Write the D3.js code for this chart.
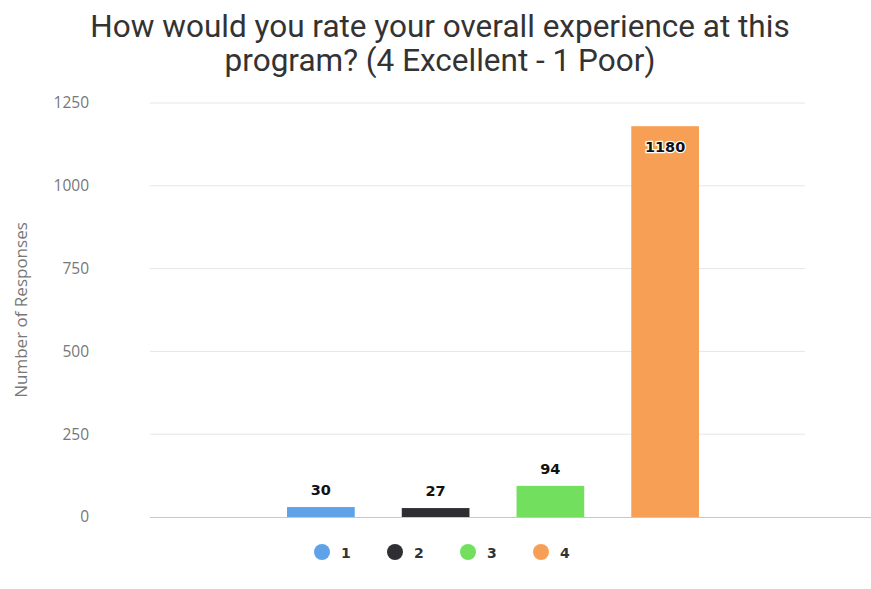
<!DOCTYPE html>
<html>
<head>
<meta charset="utf-8">
<script src="https://cdn.jsdelivr.net/npm/d3@7"></script>
<style>
  body { margin: 0; background: #fff; }
  svg { display: block; }
</style>
</head>
<body>
<svg id="chart" width="871" height="589"></svg>
<script>
// chart data
var categories = ["1", "2", "3", "4"];
var responses = [30, 27, 94, 1180];
var colors = ["#5fa2e8", "#2e2e33", "#72e05e", "#f7a055"];
var yTicks = [0, 250, 500, 750, 1000, 1250];
var titleLines = ["How would you rate your overall experience at this", "program? (4 Excellent - 1 Poor)"];

var svg = d3.select("#chart");

// scales
var y = d3.scaleLinear().domain([0, 1250]).range([517, 103]);
var x = d3.scaleBand()
  .domain(categories)
  .range([263.5, 722.5])
  .paddingInner(0.41)
  .paddingOuter(0.205);

// title
svg.append("text")
  .attr("x", 440)
  .attr("y", 37)
  .attr("text-anchor", "middle")
  .style("font-family", "Roboto, sans-serif")
  .style("font-size", "31.5px")
  .style("fill", "#333")
  .selectAll("tspan")
  .data(titleLines)
  .enter()
  .append("tspan")
    .attr("x", 440)
    .attr("dy", function(d, i){ return i == 0 ? 0 : 34 })
    .text(function(d){ return d });

// grid lines
svg.append("g")
  .selectAll("line")
  .data(yTicks.filter(function(d){ return d > 0 }))
  .enter()
  .append("line")
    .attr("x1", 150)
    .attr("x2", 805)
    .attr("y1", function(d){ return y(d) })
    .attr("y2", function(d){ return y(d) })
    .attr("stroke", "#e6e6e6")
    .attr("stroke-width", 1);

// y axis labels
var yAxis = d3.axisLeft(y).tickValues(yTicks).tickFormat(d3.format("d")).tickSize(0).tickPadding(0);
var gy = svg.append("g")
  .attr("transform", "translate(89,0)")
  .call(yAxis);
gy.select(".domain").remove();
gy.selectAll("text")
  .style("font-family", "'Open Sans', sans-serif")
  .style("font-size", "15.5px")
  .style("fill", "#777");

// y axis title
svg.append("text")
  .attr("transform", "translate(27,310) rotate(-90)")
  .attr("text-anchor", "middle")
  .style("font-family", "'Open Sans', sans-serif")
  .style("font-size", "17px")
  .style("fill", "#777")
  .text("Number of Responses");

// bars
svg.append("g")
  .selectAll("rect")
  .data(responses)
  .enter()
  .append("rect")
    .attr("x", function(d, i){ return x(categories[i]) })
    .attr("y", function(d){ return y(d) })
    .attr("width", x.bandwidth())
    .attr("height", function(d){ return y(0) - y(d) })
    .style("fill", function(d, i){ return colors[i] });

// baseline
svg.append("line")
  .attr("x1", 150)
  .attr("x2", 871)
  .attr("y1", y(0) + 0.5)
  .attr("y2", y(0) + 0.5)
  .attr("stroke", "#c8c8c8")
  .attr("stroke-width", 1);

// value labels: above small bars, inside the tall one
svg.append("g")
  .selectAll("text")
  .data(responses)
  .enter()
  .append("text")
    .attr("x", function(d, i){ return x(categories[i]) + x.bandwidth() / 2 })
    .attr("y", function(d){ return y(d) > 200 ? y(d) - 12 : y(d) + 26 })
    .attr("text-anchor", "middle")
    .style("font-family", "'DejaVu Sans', sans-serif")
    .style("font-size", "14.5px")
    .style("font-weight", "bold")
    .style("fill", "#111")
    .style("paint-order", "stroke")
    .style("stroke", "#fff")
    .style("stroke-width", "2.5px")
    .text(function(d){ return d });

// legend
var legendX = [322, 395, 468, 541];
var legend = svg.append("g")
  .selectAll("g")
  .data(categories)
  .enter()
  .append("g")
    .attr("transform", function(d, i){ return "translate(" + legendX[i] + ",552)" });
legend.append("circle")
  .attr("r", 8)
  .style("fill", function(d, i){ return colors[i] });
legend.append("text")
  .attr("x", 19)
  .attr("y", 6)
  .style("font-family", "'DejaVu Sans', sans-serif")
  .style("font-size", "14px")
  .style("font-weight", "bold")
  .style("fill", "#333")
  .text(function(d){ return d });
</script>
</body>
</html>
